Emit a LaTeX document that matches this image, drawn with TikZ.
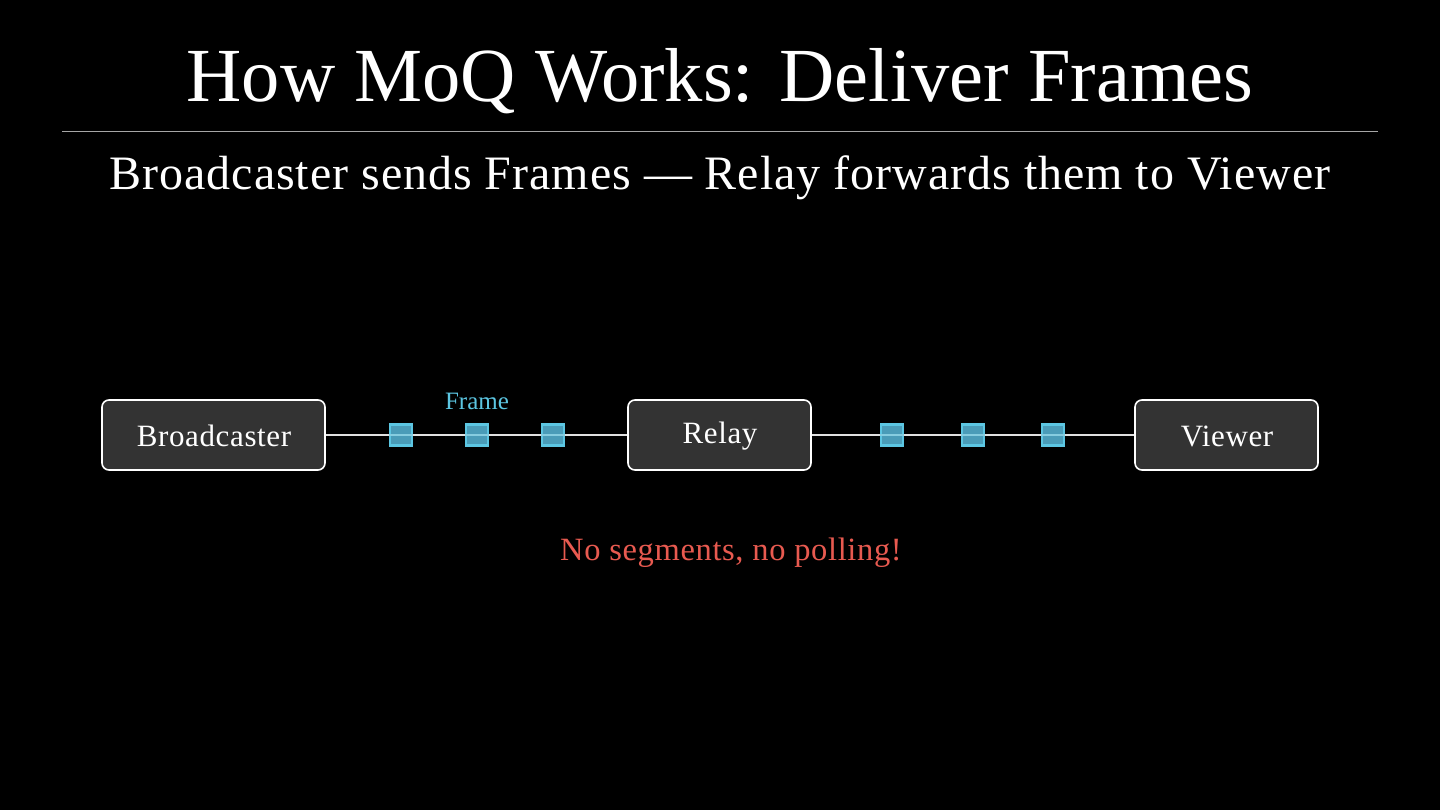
\documentclass[tikz,border=0pt]{standalone}
\usepackage{fontspec}
\setmainfont{Liberation Serif}
\newfontfamily\spaced[LetterSpace=2]{Liberation Serif}
\begin{document}
\begin{tikzpicture}[x=1pt,y=-1pt,
  box/.style={draw=white, line width=1.6pt, fill=boxgray, rounded corners=7pt, inner sep=0pt},
  boxtxt/.style={text=white, font=\spaced\fontsize{31}{36}\selectfont, anchor=base, inner sep=0pt},
  frm/.style={draw=frcyan, line width=2.6pt, fill=frfill, minimum width=22pt, minimum height=21pt, inner sep=0pt},
  link/.style={draw=white!88!black, line width=1.4pt}]
\definecolor{boxgray}{HTML}{333333}
\definecolor{frcyan}{HTML}{5CC6E2}
\definecolor{frfill}{HTML}{4A9CB8}
\definecolor{frmid}{HTML}{86CDE0}
\definecolor{redtxt}{HTML}{E85A50}
\fill[black] (0,0) rectangle (1440,810);
\useasboundingbox (0,0) rectangle (1440,810);
\node[text=white, font=\fontsize{76.5}{88}\selectfont, anchor=base, inner sep=0pt] (title) at (720,102) {How MoQ Works: Deliver Frames};
\draw[gray!70, line width=0.8pt] (62,131) coordinate (rl) -- (1378,131) coordinate (rr);
\node[text=white, font=\spaced\fontsize{48}{56}\selectfont, anchor=base, inner sep=0pt] (sub) at (720,190) {Broadcaster sends Frames — Relay forwards them to Viewer};
\node[box, minimum width=223pt, minimum height=70pt] (b) at (213.5,435) {};
\node[box, minimum width=183pt, minimum height=70pt] (r) at (719.5,435) {};
\node[box, minimum width=183pt, minimum height=70pt] (v) at (1226.5,435) {};
\node[boxtxt] (bt) at (214,446) {Broadcaster};
\node[boxtxt] (rt) at (720,443) {Relay};
\node[boxtxt] (vt) at (1227,446) {Viewer};
\draw[link] (b.east) -- (r.west);
\draw[link] (r.east) -- (v.west);
\foreach \n/\x in {f1/401,f2/477,f3/553,f4/892,f5/973,f6/1053}{
  \node[frm] (\n) at (\x,435) {};
  \draw[frmid, line width=1.4pt] (\n.west) -- (\n.east);
}
\node[text=frcyan, font=\fontsize{25}{30}\selectfont, anchor=base, inner sep=0pt] (fl) at (477,409) {Frame};
\node[text=redtxt, font=\spaced\fontsize{32.5}{38}\selectfont, anchor=base, inner sep=0pt] (note) at (731,560) {No segments, no polling!};
\end{tikzpicture}
\end{document}
